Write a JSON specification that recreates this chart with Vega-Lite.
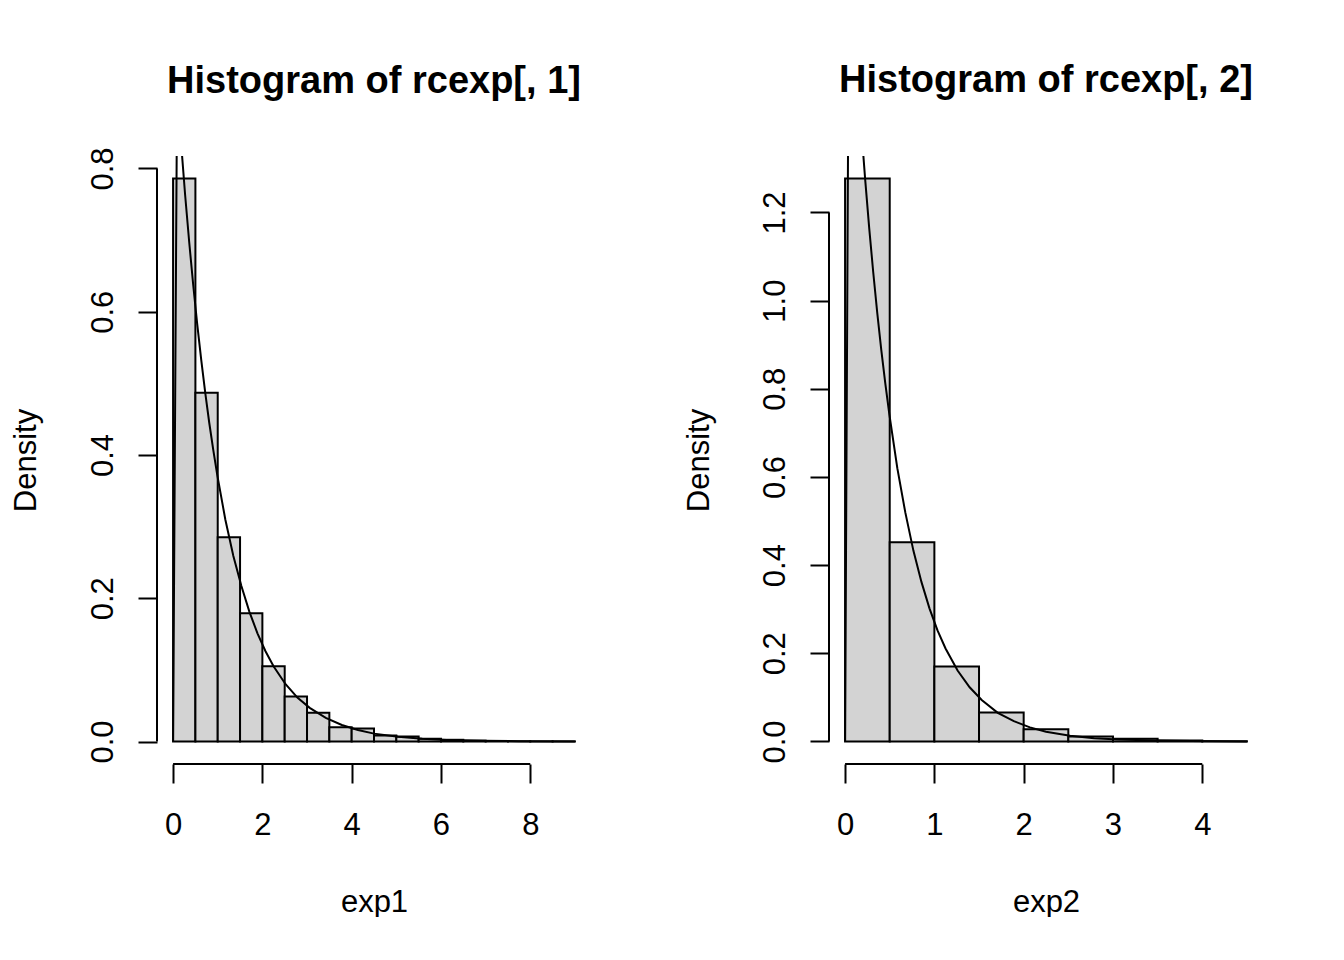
{
  "$schema": "https://vega.github.io/schema/vega-lite/v6.json",
  "background": "white",
  "padding": {"left": 10, "top": 62, "right": 0, "bottom": 0},
  "spacing": 238,
  "bounds": "flush",
  "config": {
    "view": {"stroke": null},
    "font": "Liberation Sans",
    "axis": {
      "domain": false,
      "grid": false,
      "ticks": true,
      "tickColor": "black",
      "tickWidth": 2,
      "tickSize": 19,
      "labelFont": "Liberation Sans",
      "labelFontSize": 31,
      "labelColor": "black",
      "labelOverlap": false,
      "labelFlush": false,
      "titleFont": "Liberation Sans",
      "titleFontSize": 31,
      "titleFontWeight": "normal",
      "titleColor": "black"
    },
    "title": {
      "font": "Liberation Sans",
      "fontSize": 38,
      "fontWeight": "bold",
      "color": "black",
      "anchor": "middle",
      "frame": "group",
      "baseline": "alphabetic"
    }
  },
  "datasets": {
    "bins1": [
      {"start": 0.0, "end": 0.5, "density": 0.786},
      {"start": 0.5, "end": 1.0, "density": 0.487},
      {"start": 1.0, "end": 1.5, "density": 0.285},
      {"start": 1.5, "end": 2.0, "density": 0.179},
      {"start": 2.0, "end": 2.5, "density": 0.105},
      {"start": 2.5, "end": 3.0, "density": 0.063},
      {"start": 3.0, "end": 3.5, "density": 0.040},
      {"start": 3.5, "end": 4.0, "density": 0.020},
      {"start": 4.0, "end": 4.5, "density": 0.018},
      {"start": 4.5, "end": 5.0, "density": 0.0084},
      {"start": 5.0, "end": 5.5, "density": 0.007},
      {"start": 5.5, "end": 6.0, "density": 0.0038},
      {"start": 6.0, "end": 6.5, "density": 0.0024},
      {"start": 6.5, "end": 7.0, "density": 0.0012},
      {"start": 7.0, "end": 7.5, "density": 0.0006},
      {"start": 7.5, "end": 8.0, "density": 0.0003},
      {"start": 8.0, "end": 8.5, "density": 0.0002},
      {"start": 8.5, "end": 9.0, "density": 0.0002}
    ],
    "bins2": [
      {"start": 0.0, "end": 0.5, "density": 1.277},
      {"start": 0.5, "end": 1.0, "density": 0.452},
      {"start": 1.0, "end": 1.5, "density": 0.170},
      {"start": 1.5, "end": 2.0, "density": 0.066},
      {"start": 2.0, "end": 2.5, "density": 0.0277},
      {"start": 2.5, "end": 3.0, "density": 0.011},
      {"start": 3.0, "end": 3.5, "density": 0.0063},
      {"start": 3.5, "end": 4.0, "density": 0.002},
      {"start": 4.0, "end": 4.5, "density": 0.0005}
    ],
    "curve1": [
      {"x": 0, "y": 0},
      {"x": 0.09, "y": 0.914},
      {"x": 0.18, "y": 0.835},
      {"x": 0.27, "y": 0.763},
      {"x": 0.36, "y": 0.698},
      {"x": 0.45, "y": 0.638},
      {"x": 0.54, "y": 0.583},
      {"x": 0.63, "y": 0.533},
      {"x": 0.72, "y": 0.487},
      {"x": 0.81, "y": 0.445},
      {"x": 0.9, "y": 0.407},
      {"x": 0.99, "y": 0.372},
      {"x": 1.17, "y": 0.310},
      {"x": 1.35, "y": 0.259},
      {"x": 1.53, "y": 0.217},
      {"x": 1.71, "y": 0.181},
      {"x": 1.89, "y": 0.151},
      {"x": 2.07, "y": 0.126},
      {"x": 2.25, "y": 0.105},
      {"x": 2.52, "y": 0.080},
      {"x": 2.79, "y": 0.061},
      {"x": 3.06, "y": 0.047},
      {"x": 3.42, "y": 0.033},
      {"x": 3.78, "y": 0.023},
      {"x": 4.14, "y": 0.016},
      {"x": 4.5, "y": 0.011},
      {"x": 5.04, "y": 0.0065},
      {"x": 5.58, "y": 0.0038},
      {"x": 6.12, "y": 0.0022},
      {"x": 6.93, "y": 0.0010},
      {"x": 7.74, "y": 0.0004},
      {"x": 9.0, "y": 0.0001}
    ],
    "curve2": [
      {"x": 0, "y": 0},
      {"x": 0.045, "y": 1.828},
      {"x": 0.09, "y": 1.671},
      {"x": 0.135, "y": 1.527},
      {"x": 0.18, "y": 1.395},
      {"x": 0.225, "y": 1.275},
      {"x": 0.27, "y": 1.165},
      {"x": 0.315, "y": 1.065},
      {"x": 0.36, "y": 0.973},
      {"x": 0.405, "y": 0.889},
      {"x": 0.45, "y": 0.813},
      {"x": 0.495, "y": 0.743},
      {"x": 0.585, "y": 0.620},
      {"x": 0.675, "y": 0.519},
      {"x": 0.765, "y": 0.433},
      {"x": 0.855, "y": 0.362},
      {"x": 0.945, "y": 0.302},
      {"x": 1.035, "y": 0.252},
      {"x": 1.125, "y": 0.211},
      {"x": 1.26, "y": 0.161},
      {"x": 1.395, "y": 0.123},
      {"x": 1.53, "y": 0.094},
      {"x": 1.71, "y": 0.065},
      {"x": 1.89, "y": 0.046},
      {"x": 2.07, "y": 0.032},
      {"x": 2.25, "y": 0.022},
      {"x": 2.52, "y": 0.013},
      {"x": 2.79, "y": 0.0075},
      {"x": 3.06, "y": 0.0044},
      {"x": 3.465, "y": 0.0020},
      {"x": 3.87, "y": 0.0009},
      {"x": 4.5, "y": 0.0002}
    ]
  },
  "hconcat": [
    {
      "width": 434,
      "height": 608,
      "title": {"text": "Histogram of rcexp[, 1]", "offset": 46},
      "layer": [
        {
          "data": {"name": "bins1"},
          "mark": {"type": "rect", "fill": "#D3D3D3", "stroke": "black", "strokeWidth": 2},
          "encoding": {
            "x": {"field": "start", "type": "quantitative",
                  "scale": {"domain": [-0.36, 9.36], "nice": false, "zero": false},
                  "axis": {"values": [0, 2, 4, 6, 8], "format": "d", "title": "exp1",
                           "labelPadding": 51, "labelBaseline": "alphabetic",
                           "titleX": 217, "titleY": 147, "titleAlign": "center", "titleBaseline": "alphabetic"}},
            "x2": {"field": "end"},
            "y": {"field": "density", "type": "quantitative",
                  "scale": {"domain": [-0.0314, 0.8174], "nice": false, "zero": false},
                  "axis": {"values": [0, 0.2, 0.4, 0.6, 0.8], "format": ".1f", "title": "Density",
                           "labelAngle": 270, "labelAlign": "center", "labelBaseline": "alphabetic", "labelPadding": 26,
                           "titleAngle": 270, "titleX": -122, "titleY": 304, "titleAlign": "center", "titleBaseline": "alphabetic"}},
            "y2": {"datum": 0}
          }
        },
        {
          "data": {"name": "curve1"},
          "mark": {"type": "line", "color": "black", "strokeWidth": 2, "clip": true},
          "encoding": {
            "x": {"field": "x", "type": "quantitative"},
            "y": {"field": "y", "type": "quantitative"}
          }
        },
        {
          "data": {"values": [{"a": 1}]},
          "mark": {"type": "rule", "color": "black", "strokeWidth": 2},
          "encoding": {
            "x": {"datum": 0},
            "x2": {"datum": 8},
            "y": {"datum": -0.0314}
          }
        },
        {
          "data": {"values": [{"a": 1}]},
          "mark": {"type": "rule", "color": "black", "strokeWidth": 2},
          "encoding": {
            "x": {"datum": -0.36},
            "y": {"datum": 0},
            "y2": {"datum": 0.8}
          }
        }
      ]
    },
    {
      "width": 434,
      "height": 608,
      "title": {"text": "Histogram of rcexp[, 2]", "offset": 56},
      "layer": [
        {
          "data": {"name": "bins2"},
          "mark": {"type": "rect", "fill": "#D3D3D3", "stroke": "black", "strokeWidth": 2},
          "encoding": {
            "x": {"field": "start", "type": "quantitative",
                  "scale": {"domain": [-0.18, 4.68], "nice": false, "zero": false},
                  "axis": {"values": [0, 1, 2, 3, 4], "format": "d", "title": "exp2",
                           "labelPadding": 51, "labelBaseline": "alphabetic",
                           "titleX": 217, "titleY": 147, "titleAlign": "center", "titleBaseline": "alphabetic"}},
            "x2": {"field": "end"},
            "y": {"field": "density", "type": "quantitative",
                  "scale": {"domain": [-0.0511, 1.3281], "nice": false, "zero": false},
                  "axis": {"values": [0, 0.2, 0.4, 0.6, 0.8, 1.0, 1.2], "format": ".1f", "title": "Density",
                           "labelAngle": 270, "labelAlign": "center", "labelBaseline": "alphabetic", "labelPadding": 26,
                           "titleAngle": 270, "titleX": -121, "titleY": 304, "titleAlign": "center", "titleBaseline": "alphabetic"}},
            "y2": {"datum": 0}
          }
        },
        {
          "data": {"name": "curve2"},
          "mark": {"type": "line", "color": "black", "strokeWidth": 2, "clip": true},
          "encoding": {
            "x": {"field": "x", "type": "quantitative"},
            "y": {"field": "y", "type": "quantitative"}
          }
        },
        {
          "data": {"values": [{"a": 1}]},
          "mark": {"type": "rule", "color": "black", "strokeWidth": 2},
          "encoding": {
            "x": {"datum": 0},
            "x2": {"datum": 4},
            "y": {"datum": -0.0511}
          }
        },
        {
          "data": {"values": [{"a": 1}]},
          "mark": {"type": "rule", "color": "black", "strokeWidth": 2},
          "encoding": {
            "x": {"datum": -0.18},
            "y": {"datum": 0},
            "y2": {"datum": 1.2}
          }
        }
      ]
    }
  ]
}
